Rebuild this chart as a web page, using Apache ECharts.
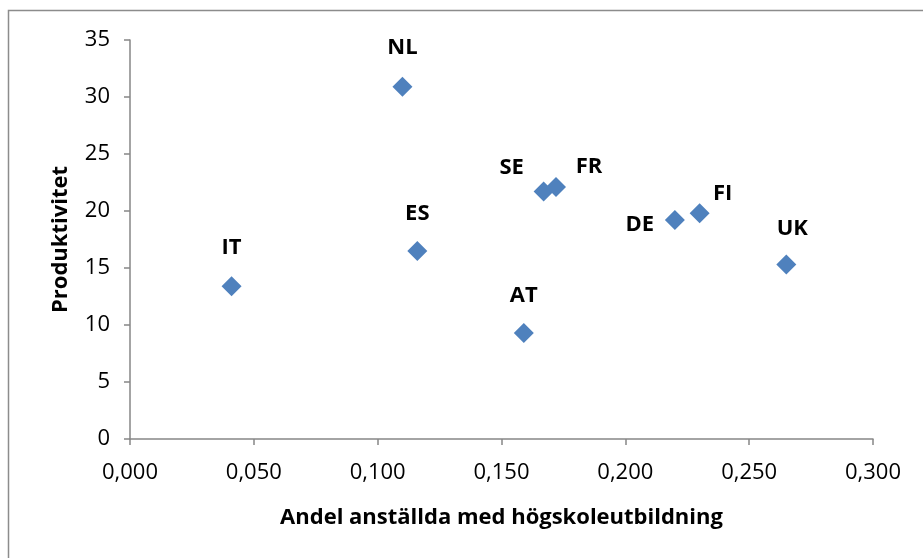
<!DOCTYPE html>
<html>
<head>
<meta charset="utf-8">
<script src="https://cdn.jsdelivr.net/npm/echarts@6/dist/echarts.min.js"></script>
<style>
  html, body { margin: 0; padding: 0; background: #fff; }
  #chart { width: 923px; height: 558px; }
</style>
</head>
<body>
<div id="chart"></div>
<script>
// Country codes and their values
const countries = ['IT', 'NL', 'ES', 'AT', 'SE', 'FR', 'DE', 'FI', 'UK'];
const shareHigherEducation = [0.041, 0.110, 0.116, 0.159, 0.167, 0.172, 0.220, 0.230, 0.265];
const productivity = [13.4, 30.9, 16.5, 9.3, 21.7, 22.1, 19.2, 19.8, 15.3];

// Label offsets (px) relative to each marker centre
const labelOffsets = {
  IT: [0, -39], NL: [0, -39], ES: [0, -37], AT: [0, -37],
  SE: [-32, -24], FR: [33, -20], DE: [-35, 5], FI: [23, -20], UK: [6, -36]
};

const FONT = '"Open Sans", "Noto Sans", sans-serif';

const points = countries.map((c, i) => ({
  name: c,
  value: [shareHigherEducation[i], productivity[i]],
  label: { offset: labelOffsets[c] }
}));

const chart = echarts.init(document.getElementById('chart'), null, { renderer: 'canvas' });
chart.setOption({
  animation: false,
  backgroundColor: '#fff',
  textStyle: { fontFamily: FONT },
  graphic: [{
    type: 'rect',
    shape: { x: 8.5, y: 10.5, width: 940, height: 600 },
    style: { fill: 'none', stroke: '#8c8c8c', lineWidth: 1.5 },
    silent: true
  }],
  grid: { left: 130, right: 50, top: 40, bottom: 119 },
  xAxis: {
    type: 'value',
    min: 0, max: 0.3, interval: 0.05,
    name: 'Andel anställda med högskoleutbildning',
    nameLocation: 'middle',
    nameGap: 68,
    nameTextStyle: { fontFamily: FONT, fontSize: 22, fontWeight: 'bold', color: '#000' },
    axisLine: { lineStyle: { color: '#868686', width: 1.5 } },
    axisTick: { show: true, length: 6, lineStyle: { color: '#868686', width: 1.5 } },
    axisLabel: {
      fontFamily: FONT, fontSize: 22, color: '#000', margin: 23,
      formatter: v => v.toFixed(3).replace('.', ',')
    },
    splitLine: { show: false }
  },
  yAxis: {
    type: 'value',
    min: 0, max: 35, interval: 5,
    name: 'Produktivitet',
    nameLocation: 'middle',
    nameGap: 58,
    nameRotate: 90,
    nameTextStyle: { fontFamily: FONT, fontSize: 22, fontWeight: 'bold', color: '#000' },
    axisLine: { show: true, lineStyle: { color: '#868686', width: 1.5 } },
    axisTick: { show: true, length: 6, lineStyle: { color: '#868686', width: 1.5 } },
    axisLabel: { fontFamily: FONT, fontSize: 22, color: '#000', margin: 20 },
    splitLine: { show: false }
  },
  series: [{
    type: 'scatter',
    symbol: 'diamond',
    symbolSize: [20, 20],
    itemStyle: { color: '#4F81BD', opacity: 1 },
    label: {
      show: true,
      position: 'inside',
      formatter: p => p.name,
      fontFamily: FONT, fontSize: 22, fontWeight: 'bold', color: '#000'
    },
    data: points
  }]
});
</script>
</body>
</html>
